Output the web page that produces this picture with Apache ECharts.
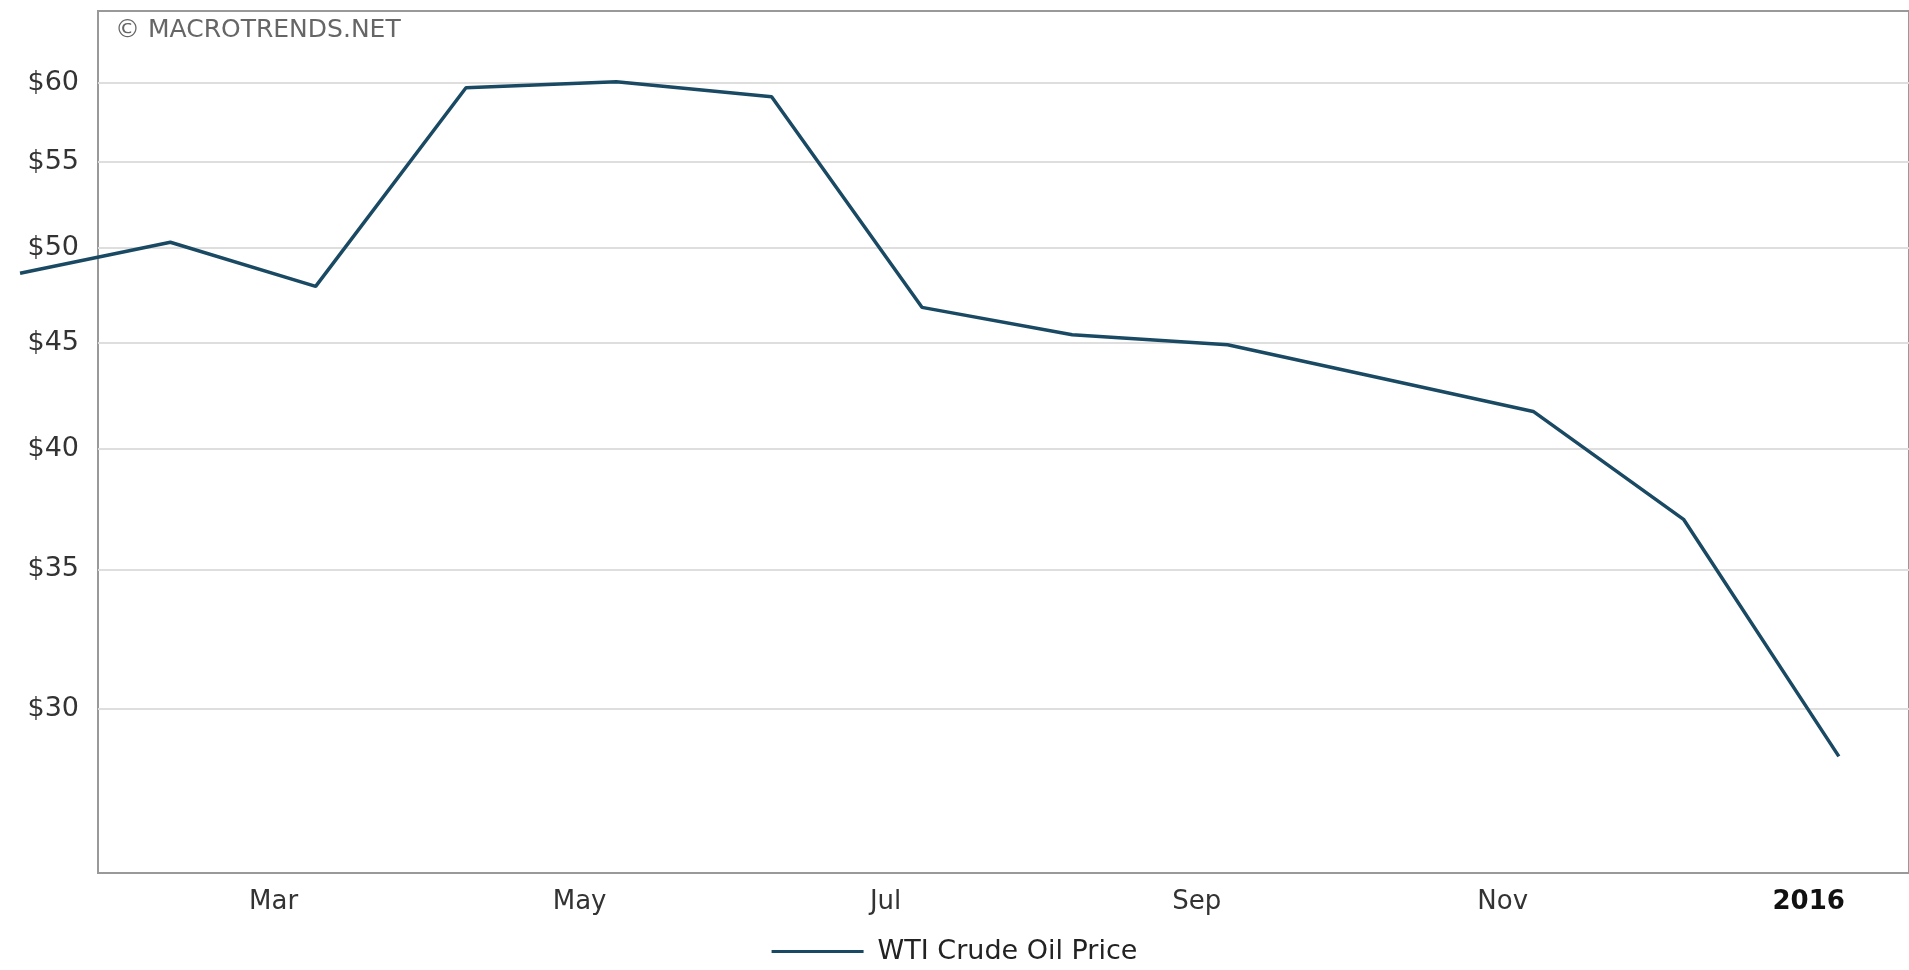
<!DOCTYPE html>
<html>
<head>
<meta charset="utf-8">
<title>WTI Crude Oil Price</title>
<script src="https://cdn.jsdelivr.net/npm/echarts@6/dist/echarts.min.js"></script>
<style>
  html, body { margin: 0; padding: 0; background: #fff; }
  #chart { width: 1909px; height: 970px; }
</style>
</head>
<body>
<div id="chart"></div>
<script>
const dates = ['2015-01-09', '2015-02-08', '2015-03-09', '2015-04-08', '2015-05-08', '2015-06-08',
  '2015-07-08', '2015-08-07', '2015-09-07', '2015-10-07', '2015-11-07', '2015-12-07', '2016-01-07'];
const prices = [48.6, 50.3, 47.9, 59.7, 60.1, 59.1, 46.8, 45.4, 44.9, 43.3, 41.7, 37.0, 28.45];

// axis ticks
const yTicks = [30, 35, 40, 45, 50, 55, 60];
const xTicks = ['2015-03-01', '2015-05-01', '2015-07-01', '2015-09-01', '2015-11-01', '2016-01-01'];
const monthNames = ['Jan', 'Feb', 'Mar', 'Apr', 'May', 'Jun', 'Jul', 'Aug', 'Sep', 'Oct', 'Nov', 'Dec'];

const FONT = '"DejaVu Sans", Verdana, sans-serif';
const ts = s => new Date(s + 'T00:00:00').getTime();
const DAY = 86400000;

// plot frame (the line itself starts left of the frame, so it lives on a wider twin grid)
const W = 1909, LEFT = 98, RIGHT = -4, TOP = 11, BOTTOM = 97;
const xMin = ts('2015-01-25'), xMax = ts('2016-01-21');
const xMinWide = ts('2015-01-05');
const pxPerMs = (W - LEFT - RIGHT) / (xMax - xMin);
const leftWide = LEFT - (xMin - xMinWide) * pxPerMs;

const chart = echarts.init(document.getElementById('chart'), null, { renderer: 'canvas' });

chart.setOption({
  animation: false,
  backgroundColor: '#fff',
  grid: [
    { left: LEFT, right: RIGHT, top: TOP, bottom: BOTTOM, show: true, borderColor: '#999', borderWidth: 2 },
    { left: leftWide, right: RIGHT, top: TOP, bottom: BOTTOM, show: false }
  ],
  graphic: [{
    type: 'text', left: 115, top: 18,
    style: { text: '\u00a9 MACROTRENDS.NET', fill: '#666', font: '25px ' + FONT }
  }],
  legend: {
    top: 938, left: 'center', padding: 0,
    icon: 'rect', itemWidth: 92, itemHeight: 3,
    textStyle: { color: '#222', fontSize: 27, fontFamily: FONT, padding: [0, 0, 0, 9] },
    data: ['WTI Crude Oil Price']
  },
  xAxis: [{
    gridIndex: 0,
    type: 'value',
    min: xMin, max: xMax,
    axisLine: { show: false },
    axisTick: { show: false, customValues: xTicks.map(ts) },
    splitLine: { show: false },
    axisLabel: {
      customValues: xTicks.map(ts),
      margin: 16,
      color: '#333', fontSize: 26, fontFamily: FONT,
      formatter: function (v) {
        const d = new Date(v);
        if (d.getMonth() === 0) return '{b|' + d.getFullYear() + '}';
        return monthNames[d.getMonth()];
      },
      rich: { b: { fontWeight: 'bold', color: '#111', fontSize: 26, fontFamily: FONT } }
    }
  }, {
    gridIndex: 1,
    type: 'value',
    min: xMinWide, max: xMax,
    show: false
  }],
  yAxis: [{
    gridIndex: 0,
    type: 'log', logBase: 10,
    min: 25, max: 65,
    axisLine: { show: false },
    axisTick: { show: false, customValues: yTicks },
    splitLine: { show: true, lineStyle: { color: '#dedede', width: 2 } },
    axisLabel: {
      customValues: yTicks,
      margin: 19,
      color: '#333', fontSize: 27, fontFamily: FONT,
      formatter: v => '$' + Math.round(v)
    }
  }, {
    gridIndex: 1,
    type: 'log', logBase: 10,
    min: 25, max: 65,
    show: false
  }],
  series: [{
    name: 'WTI Crude Oil Price',
    type: 'line',
    xAxisIndex: 1, yAxisIndex: 1,
    data: dates.map((d, i) => [ts(d), prices[i]]),
    showSymbol: false,
    color: '#1a4a63',
    lineStyle: { width: 3.5, color: '#1a4a63' }
  }]
});
</script>
</body>
</html>
